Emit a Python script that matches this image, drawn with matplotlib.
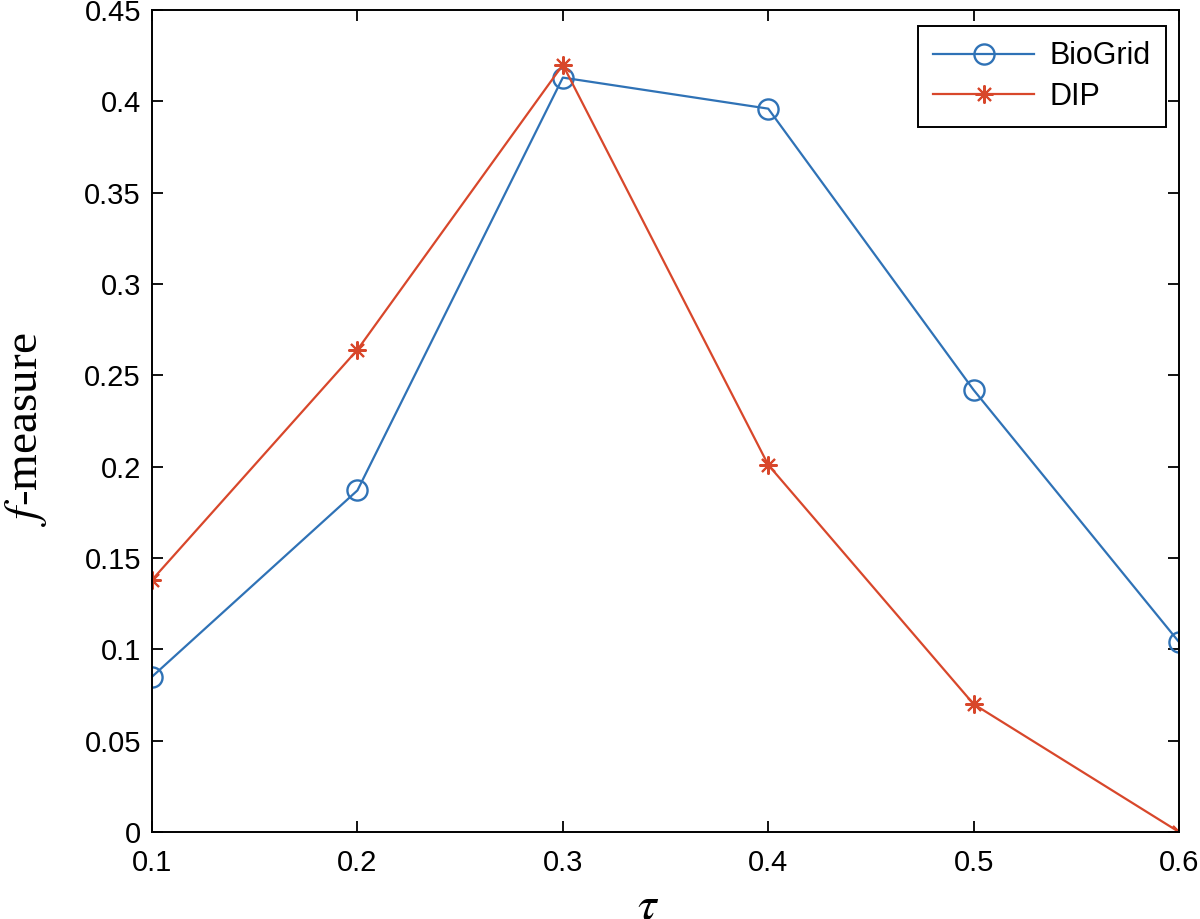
import matplotlib
matplotlib.use("Agg")
from matplotlib import pyplot as plt

tau = [0.1, 0.2, 0.3, 0.4, 0.5, 0.6]
biogrid = [0.085, 0.187, 0.413, 0.396, 0.242, 0.104]
dip = [0.138, 0.264, 0.420, 0.201, 0.070, 0.0]

x_ticks = [0.1, 0.2, 0.3, 0.4, 0.5, 0.6]
y_ticks = [0, 0.05, 0.1, 0.15, 0.2, 0.25, 0.3, 0.35, 0.4, 0.45]
y_tick_labels = ["0", "0.05", "0.1", "0.15", "0.2", "0.25", "0.3", "0.35", "0.4", "0.45"]

plt.rcParams["font.family"] = ["Liberation Sans", "DejaVu Sans"]
plt.rcParams["mathtext.fontset"] = "stix"

fig = plt.figure(figsize=(12, 9.19), dpi=100)
ax = fig.add_axes([0.1267, 0.0947, 0.8558, 0.8944])

ax.plot(tau, biogrid, color="#2F72B6", lw=1.6, marker="o", markersize=14.5,
        markerfacecolor="none", markeredgewidth=1.7, label="BioGrid")
ax.plot(tau, dip, color="#D8472B", lw=1.6, marker=(8, 2, 0), markersize=13,
        markeredgewidth=1.5, label="DIP")

ax.set_xlim(0.1, 0.6)
ax.set_ylim(0, 0.45)
ax.set_xticks(x_ticks)
ax.set_xticklabels([f"{v:g}" for v in x_ticks])
ax.set_yticks(y_ticks)
ax.set_yticklabels(y_tick_labels)
ax.tick_params(direction="in", top=True, right=True, length=8, width=1.3,
               labelsize=21)
ax.tick_params(axis="x", pad=12)
ax.tick_params(axis="y", pad=8)
for s in ax.spines.values():
    s.set_linewidth(1.4)

ax.set_xlabel(r"$\tau$", fontsize=34)
ax.xaxis.set_label_coords(0.483, -0.064)
ax.set_ylabel(r"$f$-measure", fontsize=34, family="Liberation Serif")
ax.yaxis.set_label_coords(-0.1, 0.49)

leg = ax.legend(loc="upper right", fontsize=22, handlelength=3.3,
                handletextpad=0.5, labelspacing=0.35, borderpad=0.5,
                fancybox=False, framealpha=1, edgecolor="black",
                borderaxespad=0, bbox_to_anchor=(0.9873, 0.9805))
leg.get_frame().set_linewidth(1.4)

fig.savefig("out.png", dpi=100)
